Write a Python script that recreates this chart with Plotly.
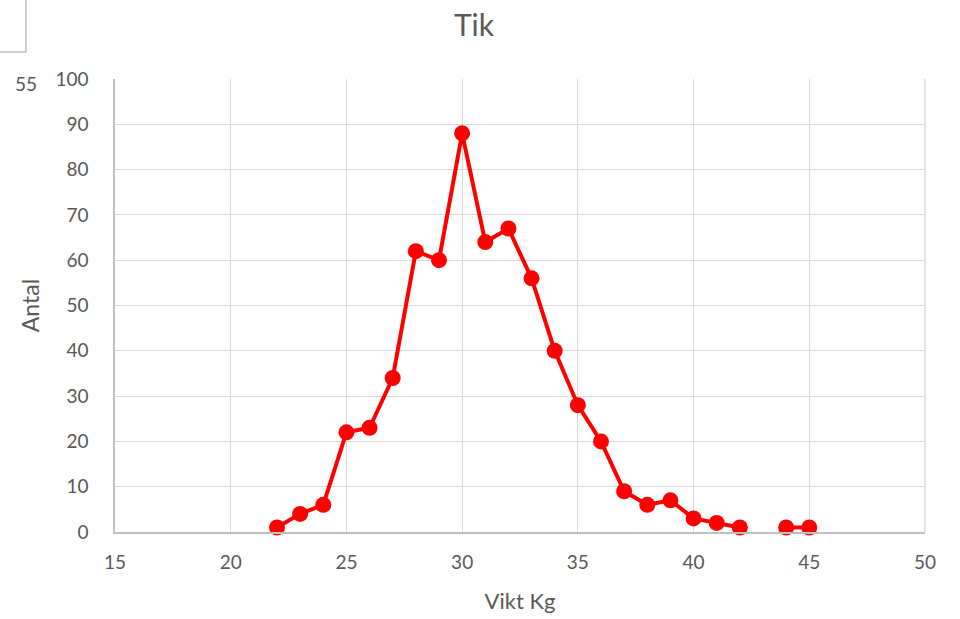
import plotly.graph_objects as go

vikt = [22, 23, 24, 25, 26, 27, 28, 29, 30, 31, 32, 33, 34, 35, 36, 37, 38, 39, 40, 41, 42, 43, 44, 45]
antal = [1, 4, 6, 22, 23, 34, 62, 60, 88, 64, 67, 56, 40, 28, 20, 9, 6, 7, 3, 2, 1, None, 1, 1]

x_ticks = [15, 20, 25, 30, 35, 40, 45, 50]
y_ticks = [0, 10, 20, 30, 40, 50, 60, 70, 80, 90, 100]

FONT = "Lato, 'Open Sans', sans-serif"
GREY = "#595959"

fig = go.Figure()
fig.add_trace(go.Scatter(
    x=vikt, y=antal, mode="lines+markers",
    line=dict(color="#ff0000", width=4),
    marker=dict(color="#ff0000", size=16),
    connectgaps=False, showlegend=False, cliponaxis=False,
))

L, R, T, B = 115, 35, 79, 87
W, H = 960, 619
pw, ph = W - L - R, H - T - B

fig.update_layout(
    width=W, height=H,
    margin=dict(l=L, r=R, t=T, b=B),
    paper_bgcolor="white", plot_bgcolor="white",
    font=dict(family=FONT, color=GREY, size=19),
    title=dict(text="Tik", x=474 / W, xanchor="center", y=1 - 25 / H, yanchor="middle",
               font=dict(size=30, color=GREY, family=FONT)),
    xaxis=dict(range=[15, 50], tickvals=x_ticks, showgrid=True, gridcolor="#d9d9d9", gridwidth=1.3,
               showline=True, linecolor="#bfbfbf", linewidth=1.5, zeroline=False,
               ticks="outside", ticklen=12, tickcolor="rgba(0,0,0,0)",
               tickfont=dict(size=19, color=GREY), automargin=False,
               title=dict(text="Vikt Kg", font=dict(size=22, color=GREY), standoff=22),
               mirror=False),
    yaxis=dict(range=[0, 100], tickvals=y_ticks, showgrid=True, gridcolor="#d9d9d9", gridwidth=1.3,
               showline=True, linecolor="#bfbfbf", linewidth=1.5, zeroline=False,
               ticks="outside", ticklen=21, tickcolor="rgba(0,0,0,0)",
               tickfont=dict(size=19, color=GREY), automargin=False,
               title=dict(text="Antal", font=dict(size=23, color=GREY), standoff=9)),
    shapes=[
        dict(type="rect", xref="paper", yref="paper",
             x0=(-10 - L) / pw, x1=(26 - L) / pw,
             y0=(H - B - 52) / ph, y1=(H - B + 10) / ph,
             line=dict(color="#bfbfbf", width=1.5), fillcolor="rgba(0,0,0,0)"),
        dict(type="line", xref="paper", yref="paper", x0=1, x1=1, y0=0, y1=1,
             line=dict(color="#d9d9d9", width=1.3)),
    ],
    annotations=[
        dict(text="55", xref="paper", yref="paper", x=(26 - L) / pw, y=(H - B - 84) / ph,
             xanchor="center", yanchor="middle", showarrow=False,
             font=dict(size=19, color=GREY, family=FONT)),
    ],
)

fig.write_html("out.html", config={"displayModeBar": False},
               post_script="document.body.style.margin='0';document.body.style.overflow='hidden';")
